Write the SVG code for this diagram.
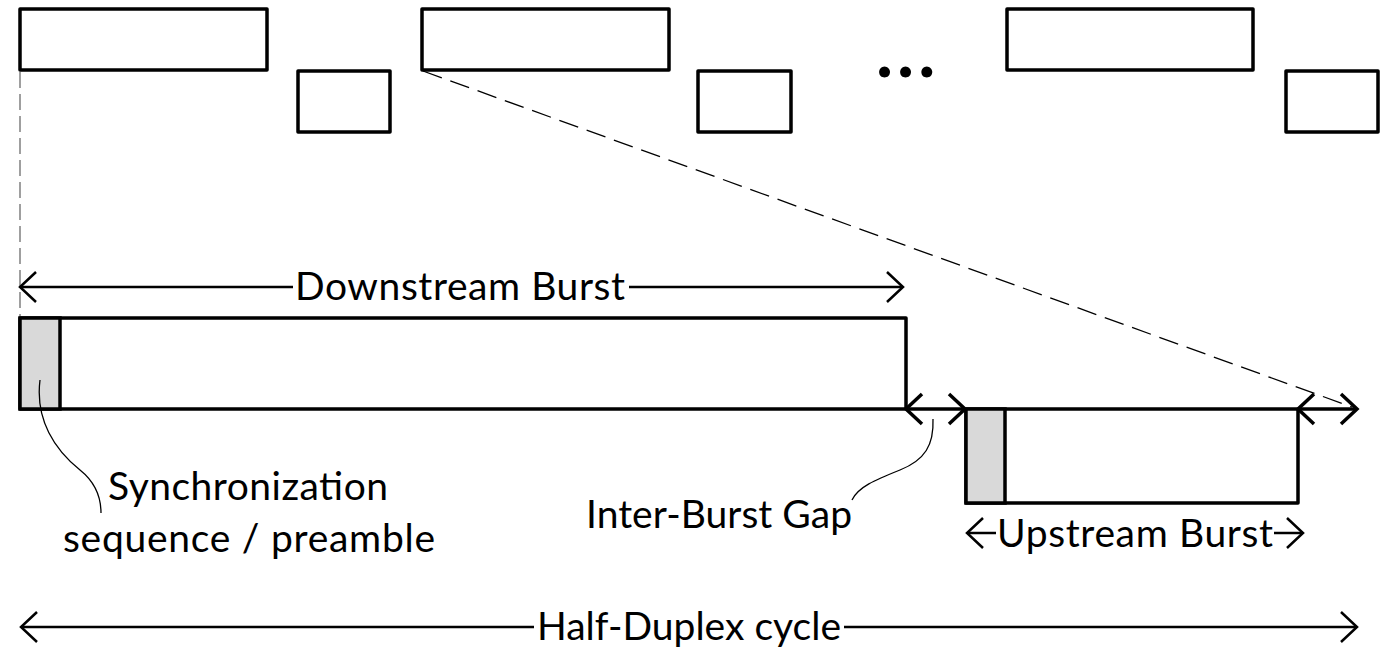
<svg xmlns="http://www.w3.org/2000/svg" width="1389" height="647" viewBox="0 0 1389 647">
  <style>
    .box { fill: #fff; stroke: #000; stroke-width: 3.5; stroke-linejoin: round; }
    .sync { fill: #d9d9d9; stroke: #000; stroke-width: 3.5; }
    .dim { fill: none; stroke: #000; stroke-width: 2.5; }
    .gap { fill: none; stroke: #000; stroke-width: 3.5; }
    .lead { fill: none; stroke: #000; stroke-width: 1.3; }
    .zoomv { fill: none; stroke: #808080; stroke-width: 1.5; stroke-dasharray: 16 6; }
    .zoomd { fill: none; stroke: #000; stroke-width: 1.3; stroke-dasharray: 20 9; }
    .lbl { font-family: "Lato", "Open Sans", sans-serif; font-size: 39px; fill: #000; }
    .dots { font-family: "Lato", "Open Sans", sans-serif; font-size: 72px; font-weight: bold; fill: #000; letter-spacing: 4px; }
  </style>
  <defs>
    <marker id="chev" markerUnits="userSpaceOnUse" orient="auto-start-reverse" refX="0" refY="0" markerWidth="30" markerHeight="40" viewBox="-20 -20 30 40" overflow="visible">
      <path d="M-16,-15 L0,0 L-16,15" fill="none" stroke="#000" stroke-width="2.5"/>
    </marker>
    <marker id="chevBold" markerUnits="userSpaceOnUse" orient="auto-start-reverse" refX="0" refY="0" markerWidth="30" markerHeight="40" viewBox="-20 -20 30 40" overflow="visible">
      <path d="M-16,-15 L0,0 L-16,15" fill="none" stroke="#000" stroke-width="3.5"/>
    </marker>
  </defs>

  <rect width="1389" height="647" fill="#fff"/>

  <!-- timeline of alternating bursts -->
  <g id="ds-burst-1"><rect class="box" x="20" y="9" width="247" height="61"/></g>
  <g id="us-burst-1"><rect class="box" x="298" y="71" width="92" height="61"/></g>
  <g id="ds-burst-2"><rect class="box" x="422" y="9" width="247" height="61"/></g>
  <g id="us-burst-2"><rect class="box" x="698" y="71" width="93" height="61"/></g>
  <g id="ellipsis"><text class="dots" x="876" y="77">...</text></g>
  <g id="ds-burst-n"><rect class="box" x="1007" y="9" width="246" height="61"/></g>
  <g id="us-burst-n"><rect class="box" x="1286" y="71" width="92" height="61"/></g>

  <!-- expanded downstream burst -->
  <g id="downstream-burst">
    <rect class="box" x="20" y="318" width="886" height="91"/>
    <rect class="sync" x="20" y="318" width="40" height="91"/>
  </g>

  <!-- expanded upstream burst -->
  <g id="upstream-burst">
    <rect class="box" x="966" y="409" width="332" height="94"/>
    <rect class="sync" x="966" y="409" width="39" height="94"/>
  </g>

  <g id="connectors">
    <!-- zoom guides -->
    <line class="zoomv" x1="20" y1="72" x2="20" y2="316"/>
    <line class="zoomd" x1="423" y1="71" x2="1352" y2="407"/>

    <!-- downstream burst extent -->
    <line class="dim" x1="20" y1="287" x2="293" y2="287" marker-start="url(#chev)"/>
    <line class="dim" x1="629" y1="287" x2="903" y2="287" marker-end="url(#chev)"/>

    <!-- inter-burst gaps -->
    <line class="gap" x1="906" y1="409" x2="965" y2="409" marker-start="url(#chevBold)" marker-end="url(#chevBold)"/>
    <line class="gap" x1="1298" y1="409" x2="1357" y2="409" marker-start="url(#chevBold)" marker-end="url(#chevBold)"/>

    <!-- upstream burst extent -->
    <line class="dim" x1="967" y1="533" x2="996" y2="533" marker-start="url(#chev)"/>
    <line class="dim" x1="1274" y1="533" x2="1303" y2="533" marker-end="url(#chev)"/>

    <!-- half-duplex cycle extent -->
    <line class="dim" x1="21" y1="627" x2="534" y2="627" marker-start="url(#chev)"/>
    <line class="dim" x1="844" y1="627" x2="1357" y2="627" marker-end="url(#chev)"/>

    <!-- callout leaders -->
    <path class="lead" d="M40,380 C35,420 55,450 80,470 C95,482 101,498 101,513"/>
    <path class="lead" d="M933,419 C934,445 925,460 900,470 C875,480 858,487 852,500"/>
  </g>

  <g id="labels">
    <text class="lbl" x="460" y="300" text-anchor="middle" textLength="330">Downstream Burst</text>
    <text class="lbl" x="248" y="500" text-anchor="middle" textLength="280">Synchronization</text>
    <text class="lbl" x="249" y="552" text-anchor="middle" textLength="372">sequence / preamble</text>
    <text class="lbl" x="719" y="528" text-anchor="middle" textLength="266">Inter-Burst Gap</text>
    <text class="lbl" x="1135" y="547" text-anchor="middle" textLength="276">Upstream Burst</text>
    <text class="lbl" x="689" y="640" text-anchor="middle" textLength="304">Half-Duplex cycle</text>
  </g>
</svg>
